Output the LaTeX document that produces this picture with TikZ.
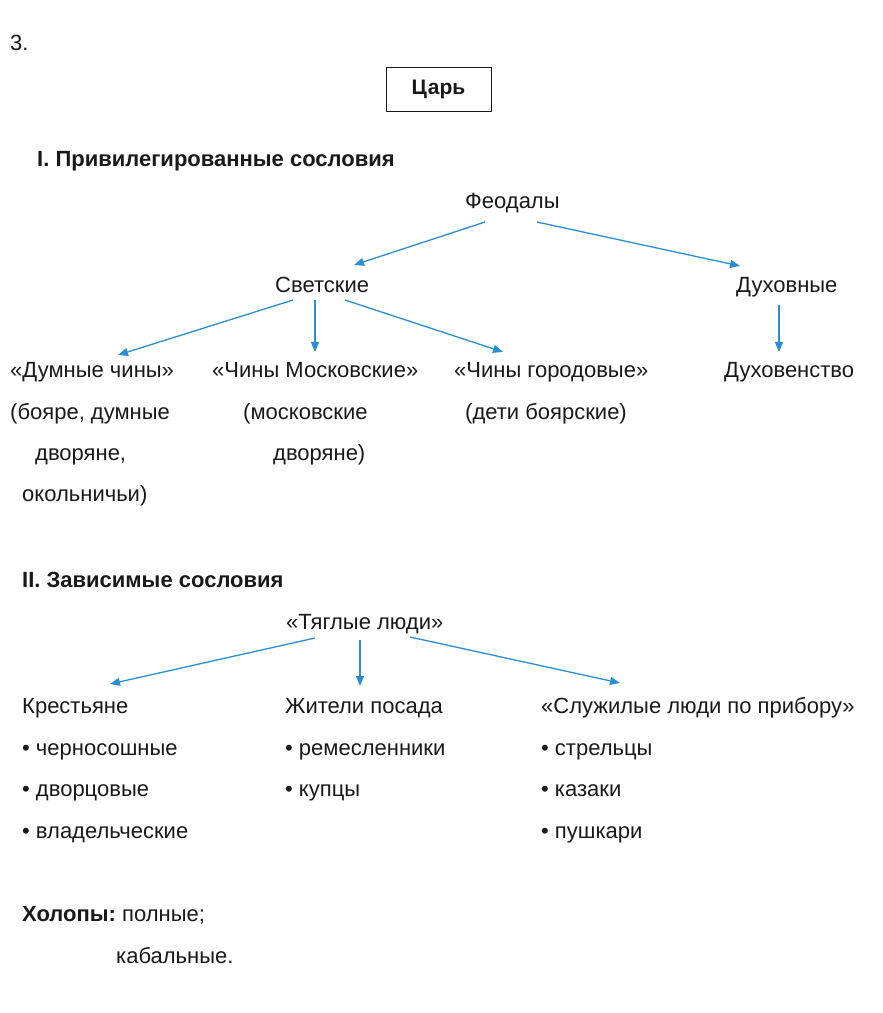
\documentclass[tikz,border=0pt]{standalone}
\usepackage{fontspec}
\setmainfont{Liberation Sans}
\usetikzlibrary{arrows.meta}
\definecolor{linkblue}{RGB}{40,142,214}
\definecolor{inkgray}{RGB}{25,25,25}
\tikzset{
    lbl/.style={inner sep=0pt, anchor=base west, text=inkgray, font=\fontsize{22}{26}\selectfont},
    head/.style={lbl, font=\fontsize{22}{26}\selectfont\bfseries},
    link/.style={linkblue, line width=1.3pt, -{Triangle[length=10pt,width=8pt]}},
    kingbox/.style={draw=inkgray, line width=0.9pt, minimum width=105pt, minimum height=44pt,
        inner sep=0pt, text=inkgray, font=\fontsize{21}{25}\selectfont\bfseries}
}
\begin{document}
\begin{tikzpicture}[x=1pt,y=-1pt]
    \useasboundingbox (0,0) rectangle (883,1013);
    \node[lbl] (num) at (10,50) {3.};
    \node[kingbox] (tsar) at (438.5,89) {\raisebox{-2pt}{Царь}};
    % I. privileged
    \node[head] (privil) at (37,166) {I. Привилегированные сословия};
    \node[lbl] (feod) at (465,208) {Феодалы};
    \node[lbl] (svet) at (275,292) {Светские};
    \node[lbl] (duhov) at (736,292) {Духовные};
    \node[lbl] (dumn) at (10,377) {«Думные чины»};
    \node[lbl] (mosk) at (212,377) {«Чины Московские»};
    \node[lbl] (gorod) at (454,377) {«Чины городовые»};
    \node[lbl] (clergy) at (724,377) {Духовенство};
    \node[lbl] (dumnA) at (10,419) {(бояре, думные};
    \node[lbl] (dumnB) at (35,460) {дворяне,};
    \node[lbl] (dumnC) at (22,501) {окольничьи)};
    \node[lbl] (moskA) at (243,419) {(московские};
    \node[lbl] (moskB) at (273,460) {дворяне)};
    \node[lbl] (gorodA) at (465,419) {(дети боярские)};
    \draw[link] ([shift={(20,14)}]feod.base west) -- ([shift={(79,-27)}]svet.base west);
    \draw[link] ([shift={(72,14)}]feod.base west) -- ([shift={(4,-26)}]duhov.base west);
    \draw[link] ([shift={(18,8)}]svet.base west) -- ([shift={(108,-22)}]dumn.base west);
    \draw[link] ([shift={(40,8)}]svet.base west) -- ([shift={(103,-25)}]mosk.base west);
    \draw[link] ([shift={(70,8)}]svet.base west) -- ([shift={(49,-25)}]gorod.base west);
    \draw[link] ([shift={(43,13)}]duhov.base west) -- ([shift={(55,-25)}]clergy.base west);
    % II. dependent
    \node[head] (depend) at (22,587) {II. Зависимые сословия};
    \node[lbl] (tyag) at (286,629) {«Тяглые люди»};
    \node[lbl] (krest) at (22,713) {Крестьяне};
    \node[lbl] (posad) at (285,713) {Жители посада};
    \node[lbl] (sluzh) at (541,713) {«Служилые люди по прибору»};
    \node[lbl] (krestA) at (22,755) {• черносошные};
    \node[lbl] (krestB) at (22,796) {• дворцовые};
    \node[lbl] (krestC) at (22,838) {• владельческие};
    \node[lbl] (posadA) at (285,755) {• ремесленники};
    \node[lbl] (posadB) at (285,796) {• купцы};
    \node[lbl] (sluzhA) at (541,755) {• стрельцы};
    \node[lbl] (sluzhB) at (541,796) {• казаки};
    \node[lbl] (sluzhC) at (541,838) {• пушкари};
    \draw[link] ([shift={(29,9)}]tyag.base west) -- ([shift={(88,-29)}]krest.base west);
    \draw[link] ([shift={(74,11)}]tyag.base west) -- ([shift={(75,-27)}]posad.base west);
    \draw[link] ([shift={(124,8)}]tyag.base west) -- ([shift={(79,-30)}]sluzh.base west);
    % serfs
    \node[lbl] (holop) at (22,921) {\textbf{Холопы:}~полные;};
    \node[lbl] (holopA) at (116,963) {кабальные.};
\end{tikzpicture}
\end{document}
